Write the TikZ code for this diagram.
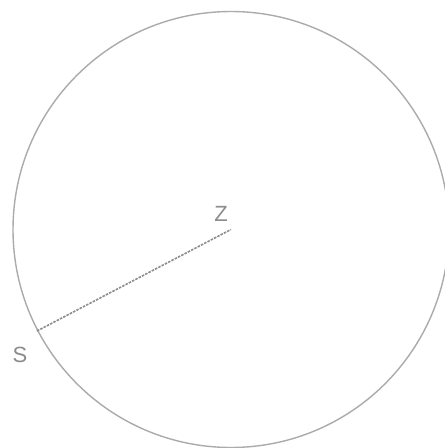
\documentclass[tikz,border=0pt]{standalone}
\usepackage{fontspec}
\setmainfont{Liberation Sans}
\begin{document}
\begin{tikzpicture}[x=1pt,y=-1pt,
  ring/.style={draw=black!33,line width=1.4pt},
  radius line/.style={draw=black!45,line width=1.6pt,dash pattern=on 2.5pt off 1.2pt},
  lbl/.style={text=black!45,font=\fontsize{22}{22}\selectfont,inner sep=0pt}]
\useasboundingbox[fill=white] (0,0) rectangle (445,448);
\coordinate (Z) at (231,229.5);
\draw[ring] (Z) circle[radius=218];
\coordinate (S) at (37,331);
\draw[radius line] (S) -- (Z);
\node[lbl] (zl) at (221,214) {Z};
\node[lbl] (sl) at (20,355) {S};
\end{tikzpicture}
\end{document}
